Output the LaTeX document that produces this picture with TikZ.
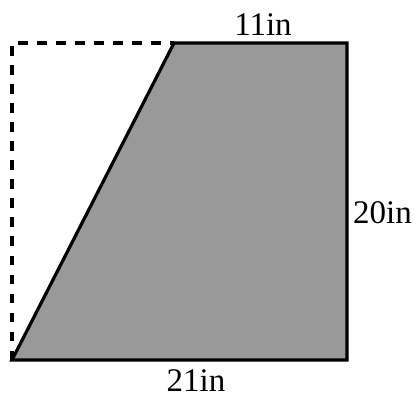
\documentclass[tikz,border=0pt]{standalone}
\usepackage{fontspec}
\setmainfont{Liberation Serif}
\begin{document}
\begin{tikzpicture}[x=1pt,y=-1pt,
  edge/.style={line width=3.2pt,line join=miter},
  dashedge/.style={line width=3.2pt,dash pattern=on 9.5pt off 9.5pt},
  lbl/.style={inner sep=0pt,font=\fontsize{33}{40}\selectfont}]
\useasboundingbox (0,0) rectangle (415,398);
\coordinate (BL) at (12,360);
\coordinate (BR) at (347,360);
\coordinate (TR) at (347,43);
\coordinate (TM) at (174,43);
\coordinate (TL) at (12,43);
\fill[fill={rgb,255:red,153;green,153;blue,153}] (BL) -- (BR) -- (TR) -- (TM) -- cycle;
\draw[dashedge] (BL) -- (TL) -- (TM);
\draw[edge] (TM) -- (TR) -- (BR) -- (BL) -- cycle;
\node[lbl,anchor=base] (top) at (263,36) {11in};
\node[lbl,anchor=base west] (right) at (353,224) {20in};
\node[lbl,anchor=base] (bottom) at (196,391) {21in};
\end{tikzpicture}
\end{document}
